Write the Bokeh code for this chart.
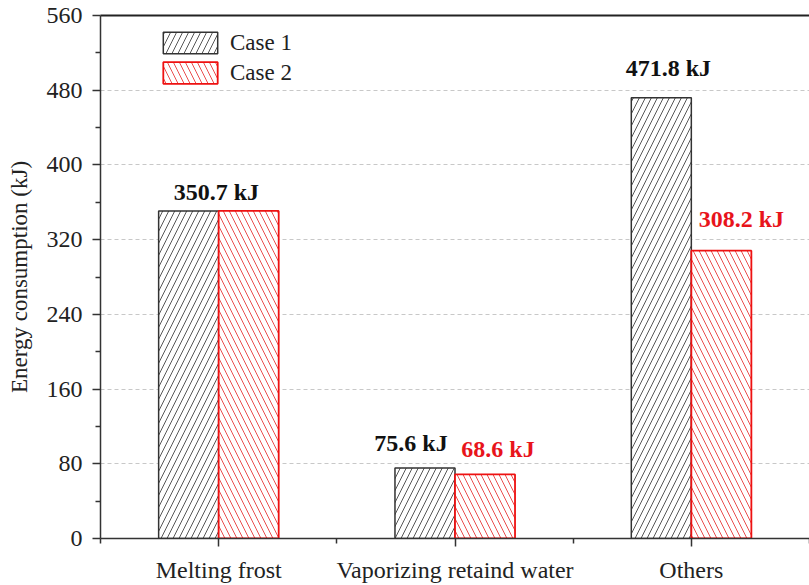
from bokeh.plotting import figure
from bokeh.models import (Range1d, FixedTicker, ColumnDataSource, LabelSet,
                          Legend, LegendItem, LinearAxis)
from bokeh.embed import file_html
from bokeh.resources import INLINE

# ---- data ----
categories = ["Melting frost", "Vaporizing retaind water", "Others"]
case1 = [350.7, 75.6, 471.8]
case2 = [350.7, 68.6, 308.2]
series_names = ["Case 1", "Case 2"]
y_ticks = [0, 80, 160, 240, 320, 400, 480, 560]

# value annotations: (category index, series, text)
ann_cat = [0, 1, 1, 2, 2]
ann_series = [0, 0, 1, 0, 1]
ann_text = ["350.7 kJ", "75.6 kJ", "68.6 kJ", "471.8 kJ", "308.2 kJ"]

# ---- style / layout ----
FONT = "'Liberation Serif', 'Times New Roman', serif"
BAR_W = 0.254
ann_shift = [-0.01, -0.186, 0.182, -0.097, 0.212]   # horizontal shift from category centre (x units)
ann_lift = [11, 17, 17, 22, 24]                      # pixels above the bar top
ann_color = ["#111111", "#111111", "#e8141b", "#111111", "#e8141b"]

p = figure(width=809, height=585, output_backend="svg", toolbar_location=None,
           x_range=Range1d(0, len(categories)), y_range=Range1d(0, 560),
           min_border_left=100, min_border_right=0, min_border_top=15,
           min_border_bottom=46)

centers = [i + 0.5 for i in range(len(categories))]
src1 = ColumnDataSource(dict(x=[c - BAR_W / 2 for c in centers], top=case1))
src2 = ColumnDataSource(dict(x=[c + BAR_W / 2 for c in centers], top=case2))

r1 = p.vbar(x="x", top="top", bottom=0, width=BAR_W, source=src1,
            fill_color="white", line_color="#333333", line_width=1.5,
            hatch_pattern="/", hatch_color="#444444", hatch_scale=12,
            hatch_weight=0.9)
r2 = p.vbar(x="x", top="top", bottom=0, width=BAR_W, source=src2,
            fill_color="white", line_color="#ee1111", line_width=1.8,
            hatch_pattern="\\", hatch_color="#e83a3a", hatch_scale=12,
            hatch_weight=0.9)

vals = [case1, case2]
ann_src = ColumnDataSource(dict(
    x=[centers[c] + s for c, s in zip(ann_cat, ann_shift)],
    y=[vals[s][c] for c, s in zip(ann_cat, ann_series)],
    text=ann_text, yoff=ann_lift, color=ann_color))
labels = LabelSet(x="x", y="y", text="text", y_offset="yoff", source=ann_src,
                  text_align="center", text_baseline="alphabetic",
                  text_font=FONT, text_font_size="24px", text_font_style="bold",
                  text_color="color")
p.add_layout(labels)

# axes
p.xaxis.ticker = FixedTicker(ticks=centers, minor_ticks=list(range(len(categories) + 1)))
p.xaxis.major_label_overrides = {c: name for c, name in zip(centers, categories)}
p.yaxis.ticker = FixedTicker(ticks=y_ticks,
                             minor_ticks=[t + 40 for t in y_ticks[:-1]])
p.yaxis.axis_label = "Energy consumption (kJ)"

for ax in (p.xaxis[0], p.yaxis[0]):
    ax.axis_line_color = "#333333"
    ax.axis_line_width = 1.5
    ax.major_tick_line_color = "#333333"
    ax.major_tick_line_width = 1.5
    ax.minor_tick_line_color = "#333333"
    ax.minor_tick_line_width = 1.5
    ax.major_tick_in = 0
    ax.major_tick_out = 8
    ax.minor_tick_in = 0
    ax.minor_tick_out = 5
    ax.major_label_text_font = FONT
    ax.major_label_text_font_size = "24px"
    ax.major_label_text_color = "#222222"
    ax.major_label_standoff = 10

p.yaxis.axis_label_text_font = FONT
p.yaxis.axis_label_text_font_size = "23px"
p.yaxis.axis_label_text_font_style = "normal"
p.yaxis.axis_label_text_color = "#222222"
p.yaxis.axis_label_standoff = 12

# top frame line (no right-hand border visible in the reference)
top_axis = LinearAxis(ticker=FixedTicker(ticks=[]), major_label_text_font_size="0px",
                      major_tick_line_color=None, minor_tick_line_color=None,
                      axis_line_color="#222222", axis_line_width=2)
p.add_layout(top_axis, "above")

p.xgrid.grid_line_color = None
p.ygrid.ticker = FixedTicker(ticks=y_ticks[1:-1])
p.ygrid.grid_line_color = "#c8c8c8"
p.ygrid.grid_line_dash = "4 3"
p.ygrid.grid_line_width = 1

p.outline_line_color = None
p.background_fill_color = "white"
p.border_fill_color = "white"

legend = Legend(items=[LegendItem(label=series_names[0], renderers=[r1]),
                       LegendItem(label=series_names[1], renderers=[r2])],
                location=(56, 452), orientation="vertical",
                glyph_width=68, glyph_height=27, label_standoff=6,
                spacing=3, padding=5, margin=0,
                label_text_font=FONT, label_text_font_size="23px",
                label_text_color="#222222",
                border_line_color=None, background_fill_alpha=0)
p.add_layout(legend)

open("out.html", "w").write(file_html(p, INLINE))
